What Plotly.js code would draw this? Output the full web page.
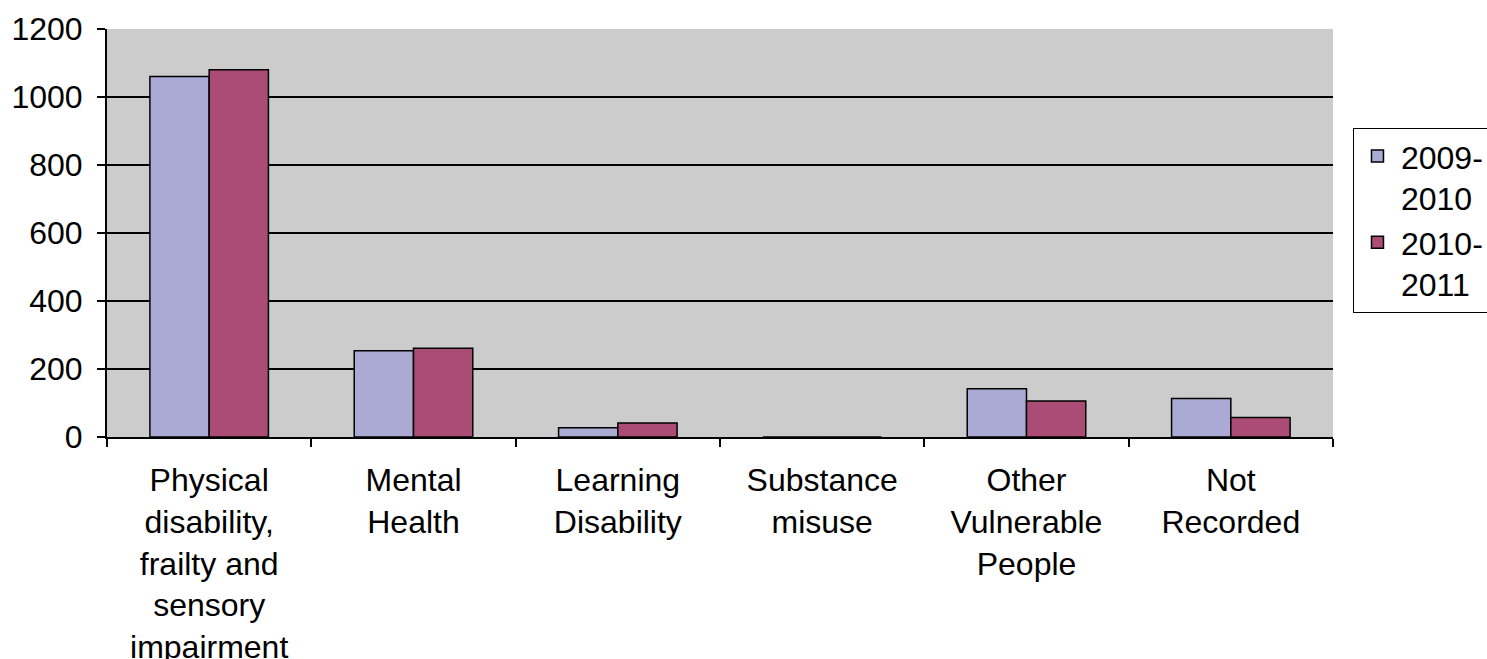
<!DOCTYPE html>
<html>
<head>
<meta charset="utf-8">
<script src="https://cdn.plot.ly/plotly-3.0.1.min.js"></script>
<style>
  html, body { margin: 0; padding: 0; background: #ffffff; }
  #chart { width: 1487px; height: 659px; }
</style>
</head>
<body>
<div id="chart"></div>
<script>
// Client groups (multi-line axis labels)
var categories = [
  "Physical<br>disability,<br>frailty and<br>sensory<br>impairment",
  "Mental<br>Health",
  "Learning<br>Disability",
  "Substance<br>misuse",
  "Other<br>Vulnerable<br>People",
  "Not<br>Recorded"
];

// Series names
var seriesNames = ["2009-<br>2010", "2010-<br>2011"];

// Counts per year
var values2009 = [1060, 254, 27, 0, 142, 113];
var values2010 = [1080, 261, 41, 0, 106, 57];

var yTicks = [0, 200, 400, 600, 800, 1000, 1200];

var FONT = "Liberation Sans, Arial, sans-serif";
var FONT_SIZE = 32;

var traces = [
  {
    type: "bar",
    name: seriesNames[0],
    x: categories,
    y: values2009,
    marker: { color: "#abaad4", line: { color: "#000000", width: 1.5 } },
    hoverinfo: "x+y"
  },
  {
    type: "bar",
    name: seriesNames[1],
    x: categories,
    y: values2010,
    marker: { color: "#ab4c77", line: { color: "#000000", width: 1.5 } },
    hoverinfo: "x+y"
  }
];

var layout = {
  width: 1487,
  height: 659,
  margin: { l: 107, r: 154, t: 29, b: 222, pad: 0, autoexpand: false },
  paper_bgcolor: "#ffffff",
  plot_bgcolor: "#cccccc",
  font: { family: FONT, size: FONT_SIZE, color: "#000000" },
  barmode: "group",
  bargap: 0.42,
  bargroupgap: 0,
  showlegend: true,
  legend: {
    x: 1.0163,
    xanchor: "left",
    y: 0.758,
    yanchor: "top",
    valign: "top",
    bgcolor: "#ffffff",
    bordercolor: "#000000",
    borderwidth: 1,
    font: { family: FONT, size: FONT_SIZE, color: "#000000" },
    tracegroupgap: 4,
    itemwidth: 37
  },
  xaxis: {
    type: "category",
    showline: true,
    linecolor: "#000000",
    linewidth: 2,
    ticks: "outside",
    tickson: "boundaries",
    ticklen: 8,
    tickwidth: 2,
    tickcolor: "#000000",
    ticklabelstandoff: 14,
    showgrid: false,
    tickfont: { family: FONT, size: FONT_SIZE, color: "#000000" },
    fixedrange: true
  },
  yaxis: {
    range: [0, 1200],
    tickvals: yTicks,
    ticktext: yTicks.map(String),
    showline: true,
    linecolor: "#000000",
    linewidth: 2,
    ticks: "outside",
    ticklen: 8,
    tickwidth: 2,
    tickcolor: "#000000",
    ticklabelstandoff: 8,
    showgrid: true,
    gridcolor: "#000000",
    gridwidth: 2,
    zeroline: false,
    tickfont: { family: FONT, size: FONT_SIZE, color: "#000000" },
    fixedrange: true
  }
};

Plotly.newPlot("chart", traces, layout, { displayModeBar: false, staticPlot: true });
</script>
</body>
</html>
